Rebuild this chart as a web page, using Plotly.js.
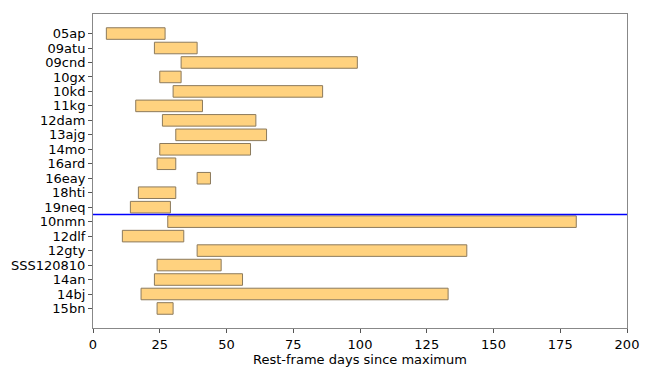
<!DOCTYPE html>
<html>
<head>
<meta charset="utf-8">
<script src="https://cdn.plot.ly/plotly-3.0.1.min.js"></script>
<style>html,body{margin:0;padding:0;background:#fff;}#chart{width:654px;height:374px;}</style>
</head>
<body>
<div id="chart"></div>
<script>
// Supernova names (top to bottom)
var names = ['05ap','09atu','09cnd','10gx','10kd','11kg','12dam','13ajg','14mo','16ard','16eay','18hti','19neq',
             '10nmn','12dlf','12gty','SSS120810','14an','14bj','15bn'];
// Start and end of coverage (rest-frame days since maximum)
var startDays = [5, 23, 33, 25, 30, 16, 26, 31, 25, 24, 39, 17, 14, 28, 11, 39, 24, 23, 18, 24];
var endDays   = [27, 39, 99, 33, 86, 41, 61, 65, 59, 31, 44, 31, 29, 181, 34, 140, 48, 56, 133, 30];
// Group divider drawn after this entry
var dividerAfter = '19neq';

var spans = startDays.map(function(s, i){ return endDays[i] - s; });
var n = names.length;
var divIdx = names.indexOf(dividerAfter) + 0.5;

var trace = {
  type: 'bar',
  orientation: 'h',
  y: names,
  x: spans,
  base: startDays,
  width: 0.8,
  marker: {color: 'rgba(255,165,0,0.5)', line: {color: '#8c7a5c', width: 1}},
  hoverinfo: 'skip'
};

var layout = {
  width: 654, height: 374,
  margin: {l: 93, r: 27, t: 14, b: 46},
  paper_bgcolor: '#fff', plot_bgcolor: '#fff',
  font: {family: 'DejaVu Sans, sans-serif', size: 13, color: '#000'},
  showlegend: false,
  xaxis: {
    range: [0, 200], tickvals: [0,25,50,75,100,125,150,175,200],
    ticks: 'outside', ticklen: 4, tickcolor: '#555',
    tickfont: {size: 13},
    showgrid: false, zeroline: false,
    showline: true, linecolor: '#888', linewidth: 1, mirror: true,
    title: {text: 'Rest-frame days since maximum', font: {size: 13}, standoff: 4}
  },
  yaxis: {
    type: 'category',
    range: [n - 1 + 1.35, -1.35],
    tickmode: 'array', tickvals: names, ticktext: names,
    tickfont: {size: 13},
    ticks: 'outside', ticklen: 4, tickcolor: '#555',
    showgrid: false, zeroline: false,
    showline: true, linecolor: '#888', linewidth: 1, mirror: true
  },
  shapes: [{
    type: 'line', xref: 'paper', x0: 0, x1: 1, yref: 'y', y0: divIdx, y1: divIdx,
    line: {color: '#0000ff', width: 1.5}
  }]
};

Plotly.newPlot('chart', [trace], layout, {displayModeBar: false, staticPlot: true});
</script>
</body>
</html>
